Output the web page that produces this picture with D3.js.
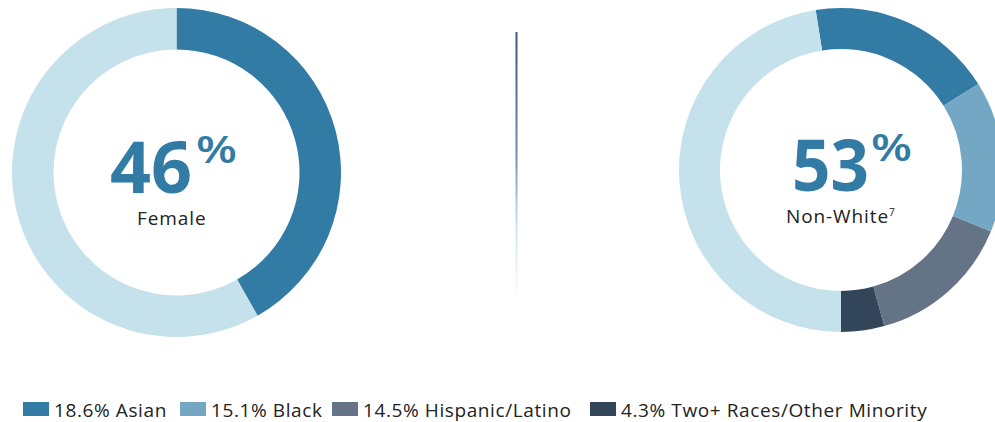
<!DOCTYPE html>
<meta charset="utf-8">
<script src="https://d3js.org/d3.v7.min.js"></script>
<style>
    body { margin: 0; background: #fff; }
    text { font-family: "Open Sans", sans-serif; }
</style>
<div id="chart"></div>

<script>

    // left donut (share of the ring as drawn)
    const genderLabels = ["Female", "Male"];
    const genderArc = [41.8, 58.2];
    const femaleHeadline = "46";

    // right donut
    const raceLabels = ["Asian", "Black", "Hispanic/Latino", "Two+ Races/Other Minority", "White"];
    const raceValues = [18.6, 15.1, 14.5, 4.3, 47.5];
    const nonWhiteHeadline = "53";

    const legendLabels = ["18.6% Asian", "15.1% Black", "14.5% Hispanic/Latino", "4.3% Two+ Races/Other Minority"];
    const legendX = [23, 180, 332, 590];

    const light = "#c5e1eb";
    const raceColors = ["#327ba5", "#73a7c4", "#657387", "#334559", light];
    const genderColors = ["#327ba5", light];

    const width = 995, height = 422;

    const svg = d3.select("#chart")
        .append("svg")
        .attr("width", width)
        .attr("height", height);

    const defs = svg.append("defs");
    const grad = defs.append("linearGradient")
        .attr("id", "fade")
        .attr("x1", 0).attr("y1", 0).attr("x2", 0).attr("y2", 1);
    grad.append("stop").attr("offset", "0%").attr("stop-color", "#3d5878");
    grad.append("stop").attr("offset", "45%").attr("stop-color", "#6f8fae");
    grad.append("stop").attr("offset", "70%").attr("stop-color", "#c8e2ef");
    grad.append("stop").attr("offset", "100%").attr("stop-color", "#ffffff");

    function donut(cx, cy, rOuter, rInner, values, colors, start) {
        const pie = d3.pie().sort(null)
            .startAngle(start)
            .endAngle(start + 2 * Math.PI);
        const arc = d3.arc().innerRadius(rInner).outerRadius(rOuter);
        const g = svg.append("g").attr("transform", `translate(${cx}, ${cy})`);
        g.selectAll("path")
            .data(pie(values))
            .join("path")
            .attr("d", arc)
            .attr("fill", (d, i) => colors[i]);
        return g;
    }

    // o: x offsets and widths of the centre texts
    function headline(g, num, label, sup, o) {
        g.append("text")
            .attr("x", o.numX)
            .attr("y", 20.5)
            .attr("fill", "#327ba5")
            .attr("font-weight", 700)
            .attr("textLength", o.numW)
            .attr("lengthAdjust", "spacingAndGlyphs")
            .style("font-size", "71px")
            .text(num);
        g.append("text")
            .attr("x", o.pctX)
            .attr("y", -9.5)
            .attr("fill", "#327ba5")
            .attr("font-weight", 600)
            .attr("textLength", 41)
            .attr("lengthAdjust", "spacingAndGlyphs")
            .style("font-size", "37px")
            .text("%");

        const l = g.append("text")
            .attr("x", o.labX)
            .attr("y", 52.5)
            .attr("fill", "#222")
            .style("font-size", "19px")
            .style("letter-spacing", "0.9px");
        l.append("tspan").text(label);
        if (sup) {
            l.append("tspan")
                .attr("dy", -7)
                .style("font-size", "10px")
                .style("letter-spacing", "0px")
                .text(sup);
        }
    }

    const gLeft = donut(176.5, 172.5, 164.5, 123, genderArc, genderColors, 0);
    headline(gLeft, femaleHeadline, genderLabels[0], null,
        {numX: -66.5, numW: 82, pctX: 19.5, labX: -39.5});

    const nonWhiteShare = d3.sum(raceValues.slice(0, 4)) / d3.sum(raceValues);
    const gRight = donut(841, 170, 162, 121, raceValues, raceColors, Math.PI - nonWhiteShare * 2 * Math.PI);
    headline(gRight, nonWhiteHeadline, "Non-White", "7",
        {numX: -49, numW: 77, pctX: 30, labX: -55});

    // divider
    svg.append("rect")
        .attr("x", 515.5)
        .attr("y", 32)
        .attr("width", 2)
        .attr("height", 272)
        .attr("fill", "url(#fade)");

    // legend
    const legend = svg.append("g");
    const items = legend.selectAll("g")
        .data(legendLabels)
        .join("g")
        .attr("transform", (d, i) => `translate(${legendX[i]}, 402)`);
    items.append("rect")
        .attr("width", 26)
        .attr("height", 14)
        .attr("fill", (d, i) => raceColors[i]);
    items.append("text")
        .attr("x", 31)
        .attr("y", 14.5)
        .attr("fill", "#222")
        .style("font-size", "19px")
        .style("letter-spacing", "0.6px")
        .text(d => d);

</script>
